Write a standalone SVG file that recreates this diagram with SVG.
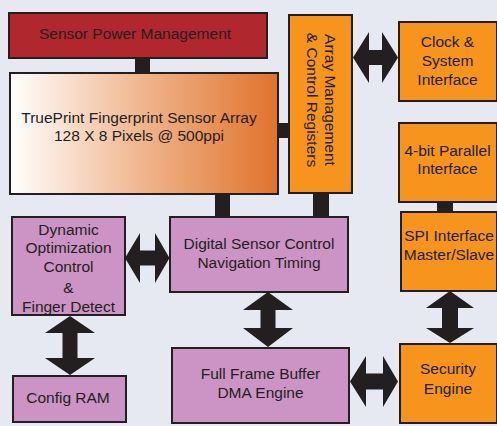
<svg xmlns="http://www.w3.org/2000/svg" width="497" height="426" viewBox="0 0 497 426">
<defs>
<linearGradient id="gSensor" x1="0" y1="0" x2="1" y2="0">
<stop offset="0" stop-color="#ffffff"/>
<stop offset="0.5" stop-color="#f0b48c"/>
<stop offset="1" stop-color="#e0722a"/>
</linearGradient>
<style>
.bx{stroke:#231f20;stroke-width:2}
.red{fill:#b0282e}
.org{fill:#f7941d}
.pnk{fill:#cc94c4}
.t{font-family:"Liberation Sans",Arial,sans-serif;font-size:15.5px;fill:#231f20;text-anchor:middle}
.arr{fill:#231f20}
</style>
</defs>
<rect width="497" height="426" fill="#e6e9f2"/>
<g id="connectors">
<rect class="arr" x="135" y="57" width="15" height="17"/>
<rect class="arr" x="277" y="123" width="13" height="15"/>
<rect class="arr" x="215" y="193" width="15" height="25"/>
<rect class="arr" x="313" y="192" width="16" height="26"/>
<rect class="arr" x="437" y="201" width="16" height="12"/>
<polygon class="arr" points="353,57.5 369,32 369,50 382,50 382,32 398,57.5 382,83 382,65 369,65 369,83"/>
<polygon class="arr" points="125,258 140,233 140,250.5 155,250.5 155,233 169.5,258 155,283 155,265.5 140,265.5 140,283"/>
<polygon class="arr" points="268,292 293,310 275.5,310 275.5,328 293,328 268,347 243,328 260.5,328 260.5,310 243,310"/>
<polygon class="arr" points="70,316 95,333 77.5,333 77.5,358 95,358 70,375 45,358 62.5,358 62.5,333 45,333"/>
<polygon class="arr" points="450,291 474,308 458,308 458,328 474,328 450,343 426,328 442,328 442,308 426,308"/>
<polygon class="arr" points="350,381.5 366,356 366,373.5 383,373.5 383,356 398,381.5 383,407 383,389.5 366,389.5 366,407"/>
</g>
<g id="power">
<rect class="bx red" x="9" y="13" width="258" height="45"/>
<text class="t" x="135" y="39">Sensor Power Management</text>
</g>
<g id="sensor">
<rect class="bx" fill="url(#gSensor)" x="10" y="73" width="268" height="121"/>
<text class="t" x="139" y="122.5">TruePrint Fingerprint Sensor Array</text>
<text class="t" x="139" y="140.5">128 X 8 Pixels @ 500ppi</text>
</g>
<g id="array">
<rect class="bx org" x="289" y="15" width="63" height="178"/>
<g transform="translate(321,100) rotate(90)">
<text class="t" x="0" y="-3.5">Array Management</text>
<text class="t" x="0" y="14.5">&amp; Control Registers</text>
</g>
</g>
<g id="clock">
<rect class="bx org" x="399" y="22" width="98" height="79"/>
<text class="t" x="447.5" y="46.5">Clock &amp;</text>
<text class="t" x="447.5" y="65.5">System</text>
<text class="t" x="447.5" y="84.5">Interface</text>
</g>
<g id="parallel">
<rect class="bx org" x="399" y="123" width="98" height="79"/>
<text class="t" x="447.5" y="155.5">4-bit Parallel</text>
<text class="t" x="447.5" y="173.5">Interface</text>
</g>
<g id="spi">
<rect class="bx org" x="401" y="212" width="96" height="79"/>
<text class="t" x="449" y="240.5">SPI Interface</text>
<text class="t" x="449" y="259.5">Master/Slave</text>
</g>
<g id="security">
<rect class="bx org" x="400" y="344" width="97" height="79"/>
<text class="t" x="448" y="373.5">Security</text>
<text class="t" x="448" y="393.5">Engine</text>
</g>
<g id="digital">
<rect class="bx pnk" x="170" y="217" width="178" height="75"/>
<text class="t" x="259" y="248.5">Digital Sensor Control</text>
<text class="t" x="259" y="267.5">Navigation Timing</text>
</g>
<g id="dynamic">
<rect class="bx pnk" x="12" y="217" width="113" height="98"/>
<text class="t" x="68.5" y="234.5">Dynamic</text>
<text class="t" x="68.5" y="253">Optimization</text>
<text class="t" x="68.5" y="272">Control</text>
<text class="t" x="68.5" y="292.5">&amp;</text>
<text class="t" x="68.5" y="311.5">Finger Detect</text>
</g>
<g id="framebuffer">
<rect class="bx pnk" x="172" y="348" width="177" height="75"/>
<text class="t" x="260.5" y="378.5">Full Frame Buffer</text>
<text class="t" x="260.5" y="397.5">DMA Engine</text>
</g>
<g id="configram">
<rect class="bx pnk" x="13" y="376" width="113" height="46"/>
<text class="t" x="68" y="402.5">Config RAM</text>
</g>
</svg>
